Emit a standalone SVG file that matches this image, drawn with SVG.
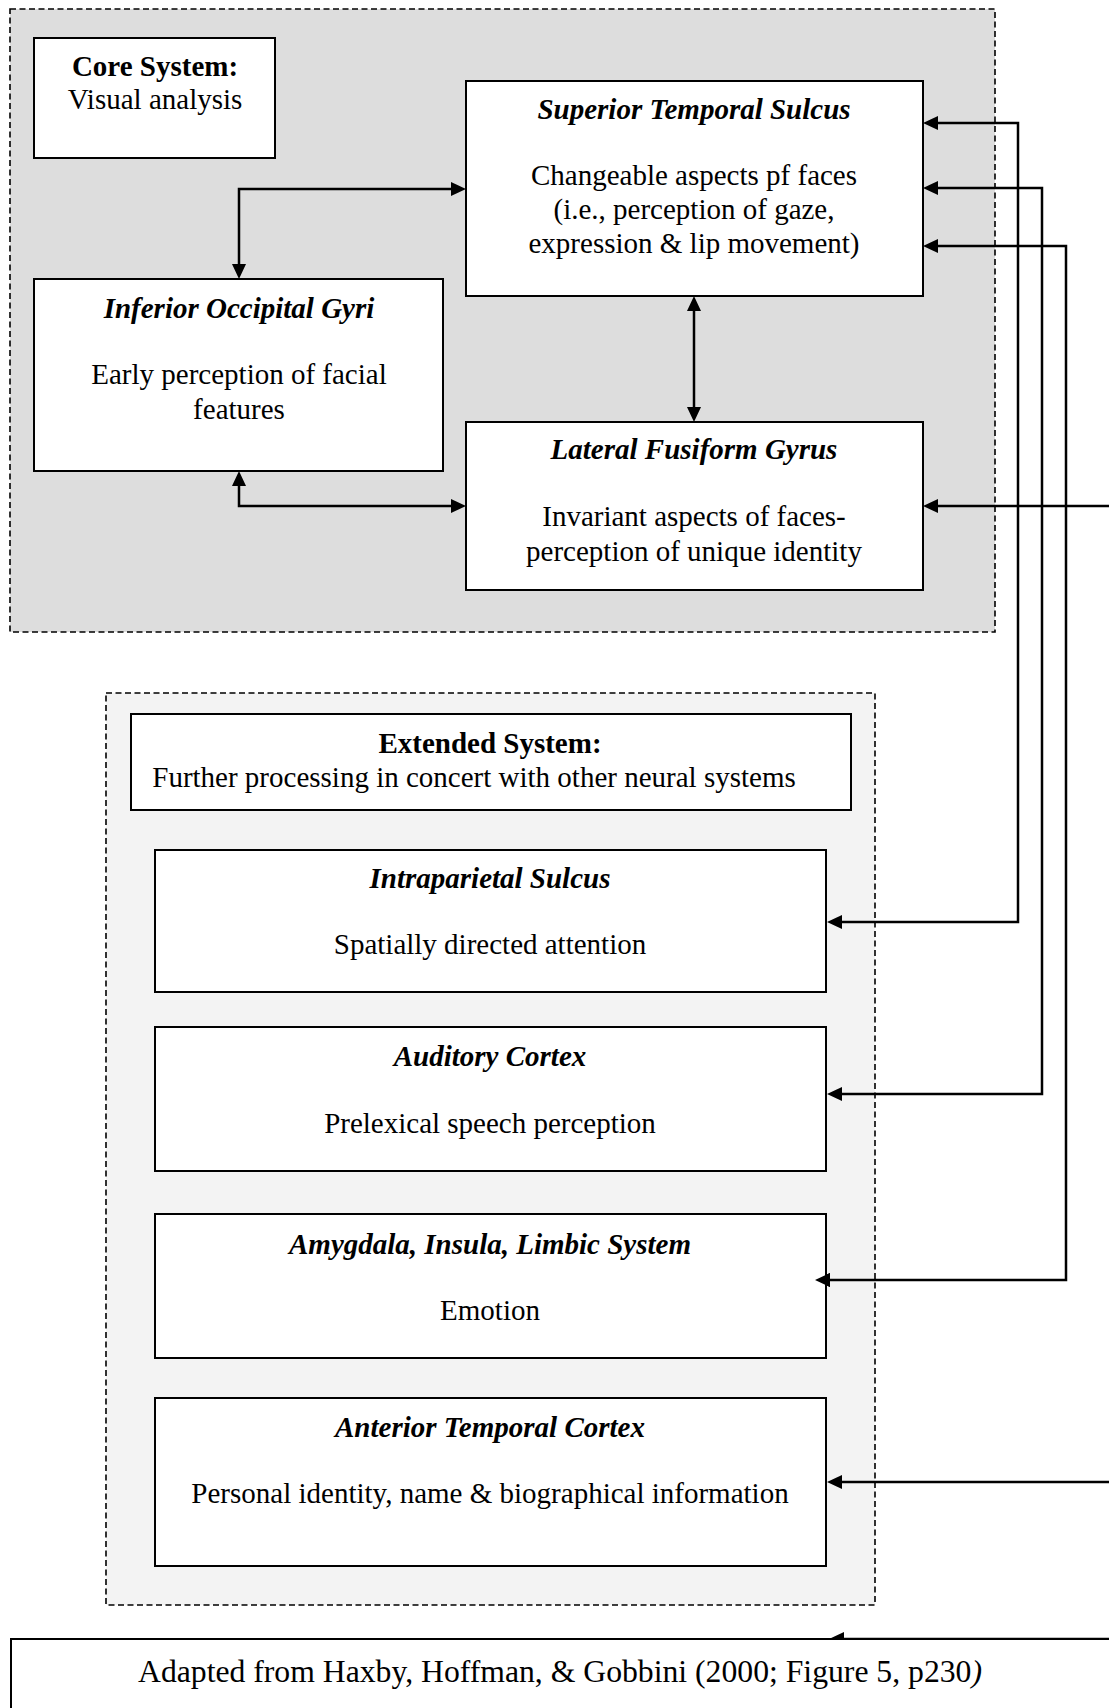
<svg xmlns="http://www.w3.org/2000/svg" width="1109" height="1708" viewBox="0 0 1109 1708">
<style>
text{font-family:"Liberation Serif","Times New Roman",serif;font-size:29px;fill:#000;text-anchor:middle}
.t{font-weight:bold;font-style:italic}
.b{font-weight:bold}
.box{fill:#fff;stroke:#000;stroke-width:2}
.group{stroke:#000;stroke-width:1.6;stroke-dasharray:6 3.5}
.c{fill:none;stroke:#000;stroke-width:2.5}
</style>
<defs>
<marker id="ah" markerUnits="userSpaceOnUse" markerWidth="16" markerHeight="16" refX="5" refY="7" orient="auto-start-reverse">
<path d="M0,0 L15,7 L0,14 Z" fill="#000"/>
</marker>
</defs>
<rect width="1109" height="1708" fill="#fff"/>
<g id="core-system-group">
<rect class="group" x="10" y="9" width="985" height="623" fill="#dddddd"/>
</g>
<g id="extended-system-group">
<rect class="group" x="106" y="693" width="769" height="912" fill="#f3f3f3"/>
</g>
<g id="connectors">
<path class="c" d="M239,269 V189 H456" marker-start="url(#ah)" marker-end="url(#ah)"/>
<path class="c" d="M239,481 V506 H456" marker-start="url(#ah)" marker-end="url(#ah)"/>
<path class="c" d="M694,306 V412" marker-start="url(#ah)" marker-end="url(#ah)"/>
<path class="c" d="M933,123 H1018 V922 H837" marker-start="url(#ah)" marker-end="url(#ah)"/>
<path class="c" d="M933,188 H1042 V1094 H837" marker-start="url(#ah)" marker-end="url(#ah)"/>
<path class="c" d="M933,246 H1066 V1280 H825" marker-start="url(#ah)" marker-end="url(#ah)"/>
<path class="c" d="M1109,506 H933" marker-end="url(#ah)"/>
<path class="c" d="M1109,1482 H837" marker-end="url(#ah)"/>
<path class="c" d="M1109,1639 H839" marker-end="url(#ah)"/>
</g>
<g id="core-system">
<rect class="box" x="34" y="38" width="241" height="120"/>
<text class="b" x="155" y="76">Core System:</text>
<text x="155" y="109">Visual analysis</text>
</g>
<g id="superior-temporal-sulcus">
<rect class="box" x="466" y="81" width="457" height="215"/>
<text class="t" x="694" y="119">Superior Temporal Sulcus</text>
<text x="694" y="185">Changeable aspects pf faces</text>
<text x="694" y="219">(i.e., perception of gaze,</text>
<text x="694" y="253">expression &amp; lip movement)</text>
</g>
<g id="inferior-occipital-gyri">
<rect class="box" x="34" y="279" width="409" height="192"/>
<text class="t" x="239" y="318">Inferior Occipital Gyri</text>
<text x="239" y="384">Early perception of facial</text>
<text x="239" y="419">features</text>
</g>
<g id="lateral-fusiform-gyrus">
<rect class="box" x="466" y="422" width="457" height="168"/>
<text class="t" x="694" y="459">Lateral Fusiform Gyrus</text>
<text x="694" y="526">Invariant aspects of faces-</text>
<text x="694" y="561">perception of unique identity</text>
</g>
<g id="extended-system">
<rect class="box" x="131" y="714" width="720" height="96"/>
<text class="b" x="490" y="753">Extended System:</text>
<text x="474" y="787">Further processing in concert with other neural systems</text>
</g>
<g id="intraparietal-sulcus">
<rect class="box" x="155" y="850" width="671" height="142"/>
<text class="t" x="490" y="888">Intraparietal Sulcus</text>
<text x="490" y="954">Spatially directed attention</text>
</g>
<g id="auditory-cortex">
<rect class="box" x="155" y="1027" width="671" height="144"/>
<text class="t" x="490" y="1066">Auditory Cortex</text>
<text x="490" y="1133">Prelexical speech perception</text>
</g>
<g id="amygdala-insula-limbic">
<rect class="box" x="155" y="1214" width="671" height="144"/>
<text class="t" x="490" y="1254">Amygdala, Insula, Limbic System</text>
<text x="490" y="1320">Emotion</text>
</g>
<g id="anterior-temporal-cortex">
<rect class="box" x="155" y="1398" width="671" height="168"/>
<text class="t" x="490" y="1437">Anterior Temporal Cortex</text>
<text x="490" y="1503">Personal identity, name &amp; biographical information</text>
</g>
<g id="amygdala-arrow-overlay">
<path d="M815,1280 L830,1273 L830,1287 Z" fill="#000"/>
</g>
<g id="citation">
<rect class="box" x="11" y="1639" width="1110" height="80"/>
<text x="560" y="1682" style="font-size:31.7px">Adapted from Haxby, Hoffman, &amp; Gobbini (2000; Figure 5, p230<tspan font-style="italic">)</tspan></text>
</g>
</svg>
